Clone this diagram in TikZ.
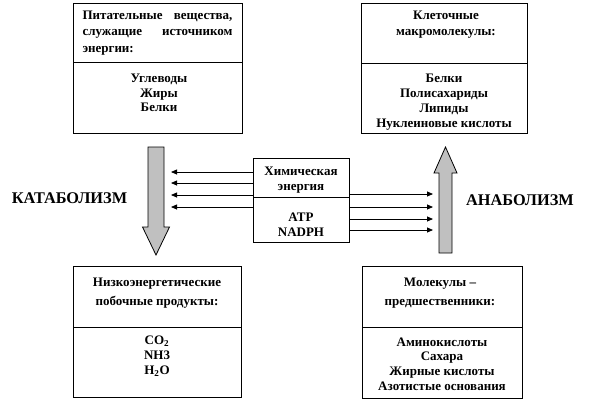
\documentclass[tikz,border=0pt]{standalone}
\usepackage{fontspec}
\setmainfont{Liberation Serif}
\usetikzlibrary{arrows.meta}
\definecolor{arrowgray}{RGB}{192,192,192}
\begin{document}
\begin{tikzpicture}[x=1pt,y=-1pt,
  box/.style={draw, line width=0.8pt, anchor=north west, inner sep=0pt},
  head/.style={font=\fontsize{13}{16.5}\selectfont\bfseries, align=center, inner sep=0pt},
  body/.style={font=\fontsize{13}{14.8}\selectfont\bfseries, align=center, inner sep=0pt},
  big/.style={font=\fontsize{16.3}{18}\selectfont\bfseries, inner sep=0pt},
  conn/.style={line width=0.8pt, -{Triangle[length=6pt,width=5pt]}},
  bigarrow/.style={fill=arrowgray, draw=black, line width=0.8pt}]
\useasboundingbox (0,0) rectangle (592,402);

% top-left box
\node[box, minimum width=169pt, minimum height=59pt] (tlh) at (73,3) {};
\node[box, minimum width=169pt, minimum height=71pt] (tlb) at (73,62) {};
\node[head, text width=150pt, align=left] (tlht) at (157.5,33) {Питательные\hfill вещества,\\служащие\hfill источником\\энергии:};
\node[body] (tlbt) at (159,93) {Углеводы\\Жиры\\Белки};

% top-right box
\node[box, minimum width=166pt, minimum height=60pt] (trh) at (361,3) {};
\node[box, minimum width=166pt, minimum height=70pt] (trb) at (361,63) {};
\node[head] (trht) at (446,24.5) {Клеточные\\макромолекулы:};
\node[body] (trbt) at (444,102) {Белки\\Полисахариды\\Липиды\\Нуклеиновые кислоты};

% bottom-left box
\node[box, minimum width=168pt, minimum height=61pt] (blh) at (73,266) {};
\node[box, minimum width=168pt, minimum height=70pt] (blb) at (73,327) {};
\node[head, font=\fontsize{13}{19.5}\selectfont\bfseries] (blht) at (157,293) {Низкоэнергетические\\побочные продукты:};
\node[body] (blbt) at (157,356) {CO\textsubscript{2}\\NH3\\H\textsubscript{2}O};

% bottom-right box
\node[box, minimum width=160pt, minimum height=61pt] (brh) at (362,266) {};
\node[box, minimum width=160pt, minimum height=71pt] (brb) at (362,327) {};
\node[head, font=\fontsize{13}{19.5}\selectfont\bfseries] (brht) at (440,293) {Молекулы –\\предшественники:};
\node[body] (brbt) at (442,364) {Аминокислоты\\Сахара\\Жирные кислоты\\Азотистые основания};

% middle box
\node[box, minimum width=96pt, minimum height=39pt] (mh) at (253,158) {};
\node[box, minimum width=96pt, minimum height=45pt] (mb) at (253,197) {};
\node[head, font=\fontsize{13}{15}\selectfont\bfseries] (mht) at (301,180.5) {Химическая\\энергия};
\node[body] (mbt) at (301,225) {ATP\\NADPH};

% labels
\node[big] (kat) at (69.5,198) {КАТАБОЛИЗМ};
\node[big] (ana) at (520,200) {АНАБОЛИЗМ};

% big arrows
\draw[bigarrow] (148,147) -- (164,147) -- (164,227) -- (169.5,227) -- (156,255) -- (142.5,227) -- (148,227) -- cycle;
\draw[bigarrow] (439,253) -- (452,253) -- (452,173) -- (457,173) -- (445.5,147) -- (434,173) -- (439,173) -- cycle;

% connectors to the left
\coordinate (l1) at (171,172);
\coordinate (l2) at (171,183);
\coordinate (l3) at (171,195);
\coordinate (l4) at (171,207);
\draw[conn] (mh.west |- l1) -- (l1);
\draw[conn] (mh.west |- l2) -- (l2);
\draw[conn] (mh.west |- l3) -- (l3);
\draw[conn] (mb.west |- l4) -- (l4);

% connectors to the right
\coordinate (r1) at (433,194);
\coordinate (r2) at (433,207);
\coordinate (r3) at (433,219);
\coordinate (r4) at (433,230);
\draw[conn] (mh.east |- r1) -- (r1);
\draw[conn] (mb.east |- r2) -- (r2);
\draw[conn] (mb.east |- r3) -- (r3);
\draw[conn] (mb.east |- r4) -- (r4);
\end{tikzpicture}
\end{document}
